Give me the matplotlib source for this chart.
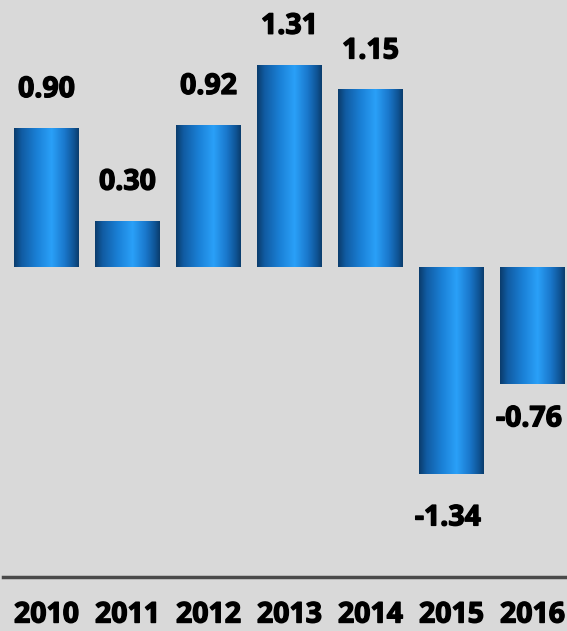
import matplotlib
matplotlib.use("Agg")
import matplotlib.pyplot as plt
import matplotlib.patheffects as pe
import numpy as np
from matplotlib.colors import LinearSegmentedColormap

years = ["2010", "2011", "2012", "2013", "2014", "2015", "2016"]
values = [0.90, 0.30, 0.92, 1.31, 1.15, -1.34, -0.76]
labels = ["0.90", "0.30", "0.92", "1.31", "1.15", "-1.34", "-0.76"]

W, H = 567, 631
fig = plt.figure(figsize=(W / 100, H / 100), dpi=100)
bg = "#d9d9d9"
fig.patch.set_facecolor(bg)
ax = fig.add_axes([0, 0, 1, 1])
ax.set_facecolor(bg)
for s in ax.spines.values():
    s.set_visible(False)
ax.set_xticks([])
ax.set_yticks([])

pitch = 81.0
ppu = 154.4
zero_px = 267.0
c0 = 46.5

cmap = LinearSegmentedColormap.from_list(
    "cyl",
    [(0.0, "#0a3c6c"), (0.12, "#115ca3"), (0.35, "#1a80d6"),
     (0.58, "#2aa0f8"), (0.78, "#1a78cc"), (0.92, "#0f5597"), (1.0, "#0a3c6c")])
grad = np.linspace(0, 1, 256).reshape(1, -1)

x = np.arange(len(years))
bars = ax.bar(x, values, width=0.8, color="#1a80d6", edgecolor="none", zorder=2)
for b in bars:
    x0, y0 = b.get_x(), b.get_y()
    w, h = b.get_width(), b.get_height()
    im = ax.imshow(grad, cmap=cmap, aspect="auto",
                   extent=[x0, x0 + w, min(y0, y0 + h), max(y0, y0 + h)],
                   zorder=3, interpolation="bilinear")
    im.set_clip_path(b)

ax.set_xlim((0 - c0) / pitch, (W - c0) / pitch)
ax.set_ylim(-(H - zero_px) / ppu, zero_px / ppu)

font = dict(family=["Open Sans", "DejaVu Sans"], fontweight="bold", fontsize=20.5)
thick = [pe.withStroke(linewidth=1.0, foreground="black")]
for xi, v, lab in zip(x, values, labels):
    dx = 0.0
    if v >= 0:
        yy = v + 38.5 / ppu
    else:
        off = 44 if v < -1 else 34.5
        yy = v - off / ppu
        dx = -3.5 / pitch
    t = ax.text(xi + dx, yy, lab, ha="center", va="center",
                color="black", zorder=4, **font)
    t.set_path_effects(thick)

line_y = -(577 - zero_px) / ppu
ax.axhline(line_y, xmin=3 / W, xmax=1, color="#4a4a4a", lw=2.5, zorder=2)

year_y = -(615 - zero_px) / ppu
for xi, yr in zip(x, years):
    t = ax.text(xi, year_y, yr, ha="center", va="center",
                color="black", **font)
    t.set_path_effects(thick)

fig.savefig("out.png", dpi=100, facecolor=bg)
